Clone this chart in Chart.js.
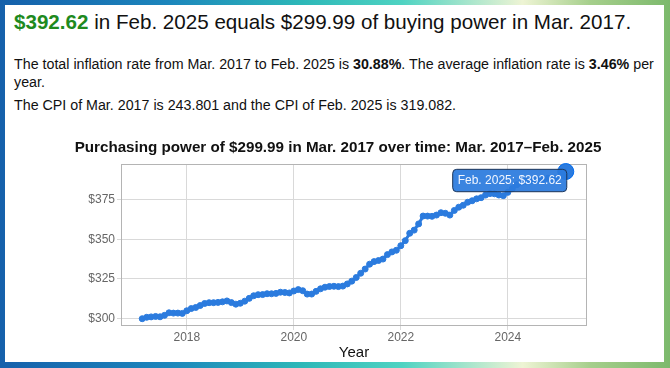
<!DOCTYPE html>
<html>
<head>
<meta charset="utf-8">
<script src="https://cdn.jsdelivr.net/npm/chart.js@4.4.1/dist/chart.umd.min.js"></script>
<style>
  html, body { margin: 0; padding: 0; }
  body {
    width: 670px; height: 368px; overflow: hidden; position: relative;
    font-family: "Liberation Sans", Arial, sans-serif;
    background: linear-gradient(90deg, #1560ab 0%, #1c86bc 25%, #2db8b8 45%, #4fd3c2 60%, #eef4d4 78%, #a6cf8c 88%, #7cb96c 100%);
  }
  #panel { position: absolute; left: 5px; top: 5px; width: 659px; height: 357px; background: #fff; }
  #headline { position: absolute; left: 9px; top: 4px; font-size: 20.6px; line-height: 26px; color: #111; white-space: nowrap; }
  #headline b { color: #1e8a1e; }
  .para { position: absolute; left: 9px; width: 648px; font-size: 14.25px; line-height: 18px; color: #111; }
  #p1 { top: 50px; }
  #p2 { top: 91px; }
  #chartBox { position: absolute; left: 55px; top: 131px; width: 556px; height: 227px; }
</style>
</head>
<body>
<div id="panel">
  <div id="headline"><b>$392.62</b> in Feb. 2025 equals $299.99 of buying power in Mar. 2017.</div>
  <div class="para" id="p1">The total inflation rate from Mar. 2017 to Feb. 2025 is <b>30.88%</b>. The average inflation rate is <b>3.46%</b> per year.</div>
  <div class="para" id="p2">The CPI of Mar. 2017 is 243.801 and the CPI of Feb. 2025 is 319.082.</div>
  <div id="chartBox"><canvas id="powerChart"></canvas></div>
</div>
<script>
// first month shown: Mar. 2017 (month index is 0-based)
const startYear = 2017;
const startMonth = 2;
const monthNames = ["Jan.", "Feb.", "Mar.", "Apr.", "May", "Jun.", "Jul.", "Aug.", "Sep.", "Oct.", "Nov.", "Dec."];

// value of $299.99 (Mar. 2017) in each month, Mar. 2017 - Feb. 2025
const purchasingPower = [
  299.99, 300.88, 301.14, 301.41, 301.20, 302.10, 303.70, 303.51, 303.52, 303.34,
  304.99, 306.38, 307.07, 308.29, 309.57, 310.07, 310.09, 310.26, 310.62, 311.17, 310.13, 309.14,
  309.72, 311.03, 312.79, 314.44, 315.11, 315.18, 315.70, 315.69, 315.93, 316.66, 316.49, 316.20,
  317.43, 318.30, 317.60, 315.48, 315.49, 317.21, 318.82, 319.82, 320.27, 320.40, 320.20, 320.51,
  321.87, 323.63, 325.92, 328.60, 331.24, 334.31, 335.92, 336.62, 337.53, 340.33, 342.01, 343.06,
  345.94, 349.10, 353.77, 355.74, 359.66, 364.60, 364.56, 364.43, 365.21, 366.70, 366.32, 365.20,
  368.12, 370.17, 371.40, 373.28, 374.22, 375.43, 376.14, 377.79, 378.73, 378.58, 377.82, 377.44,
  379.50, 381.85, 384.32, 385.81, 386.45, 386.58, 387.03, 387.35, 387.97, 388.42, 388.20, 388.34,
  390.88, 392.62
];

const xTicks = [2018, 2020, 2022, 2024];
const yTicks = [300, 325, 350, 375];

const lineColor = "#2b7bde";
const fontFamily = "'Liberation Sans', Arial, sans-serif";

const points = purchasingPower.map((v, i) => ({ x: startYear + (startMonth + i) / 12, y: v }));

function monthLabel(i) {
  const m = startMonth + i;
  return monthNames[m % 12] + " " + (startYear + Math.floor(m / 12));
}

// box around the plot area
const plotBorder = {
  id: "plotBorder",
  beforeDatasetsDraw(chart) {
    const { ctx, chartArea: a } = chart;
    ctx.save();
    ctx.strokeStyle = "#b4b4b4";
    ctx.lineWidth = 1;
    ctx.strokeRect(Math.round(a.left) + 0.5, Math.round(a.top) + 0.5, Math.round(a.width) - 1, Math.round(a.height) - 1);
    ctx.restore();
  }
};

Chart.Tooltip.positioners.nextToPoint = function (items) {
  if (!items.length) return false;
  const el = items[0].element;
  return { x: el.x + 1, y: el.y + 9 };
};

const ctx = document.getElementById("powerChart").getContext("2d");
const chart = new Chart(ctx, {
  type: "line",
  data: {
    datasets: [{
      data: points,
      borderColor: lineColor,
      backgroundColor: lineColor,
      borderWidth: 3,
      pointRadius: 3,
      pointBorderWidth: 1,
      pointHoverRadius: 8,
      pointHoverBorderWidth: 1,
      pointHoverBackgroundColor: lineColor,
      tension: 0,
      clip: false
    }]
  },
  options: {
    responsive: true,
    maintainAspectRatio: false,
    animation: false,
    events: [],
    layout: { padding: 0 },
    plugins: {
      legend: { display: false },
      title: {
        display: true,
        text: "Purchasing power of $299.99 in Mar. 2017 over time: Mar. 2017\u2013Feb. 2025",
        color: "#111",
        font: { family: fontFamily, size: 15.2, weight: "bold" },
        padding: { top: 3, bottom: 7 }
      },
      tooltip: {
        position: "nextToPoint",
        xAlign: "right",
        yAlign: "center",
        caretSize: 0,
        caretPadding: 0,
        backgroundColor: "rgba(43,123,222,0.93)",
        borderColor: "#1d3557",
        borderWidth: 1,
        cornerRadius: 4,
        displayColors: false,
        padding: { top: 4, bottom: 4, left: 5, right: 5 },
        bodyColor: "#f2f6ff",
        bodyFont: { family: fontFamily, size: 12 },
        callbacks: {
          title: () => "",
          label: (c) => monthLabel(c.dataIndex) + ": $" + c.parsed.y.toFixed(2)
        }
      }
    },
    scales: {
      x: {
        type: "linear",
        min: 2016.77,
        max: 2025.48,
        afterBuildTicks: (s) => { s.ticks = xTicks.map(v => ({ value: v })); },
        afterFit: (s) => { s.height = 37; },
        grid: { color: "#d9d9d9", tickLength: 4 },
        border: { display: false },
        ticks: { color: "#666", font: { family: fontFamily, size: 12 }, padding: 0, maxRotation: 0, callback: (v) => String(v) },
        title: { display: true, text: "Year", color: "#111", font: { family: fontFamily, size: 15 }, padding: { top: 0, bottom: 1 } }
      },
      y: {
        min: 295.4,
        max: 397.2,
        afterBuildTicks: (s) => { s.ticks = yTicks.map(v => ({ value: v })); },
        afterFit: (s) => { s.width = 61; },
        grid: { color: "#d9d9d9", tickLength: 4 },
        border: { display: false },
        ticks: { color: "#666", font: { family: fontFamily, size: 12 }, padding: 2, callback: (v) => "$" + v }
      },
      yRight: {
        position: "right",
        grid: { display: false },
        border: { display: false },
        ticks: { display: false },
        afterFit: (s) => { s.width = 29; }
      }
    }
  },
  plugins: [plotBorder]
});

const last = [{ datasetIndex: 0, index: purchasingPower.length - 1 }];
const lastEl = chart.getDatasetMeta(0).data[purchasingPower.length - 1];
chart.tooltip.setActiveElements(last, { x: lastEl.x, y: lastEl.y });
chart.setActiveElements(last);
chart.update();
</script>
</body>
</html>
